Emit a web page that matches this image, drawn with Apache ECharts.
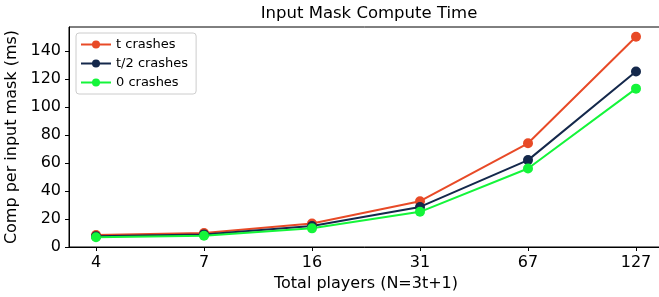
<!DOCTYPE html>
<html>
<head>
<meta charset="utf-8">
<script src="https://cdn.jsdelivr.net/npm/echarts@6/dist/echarts.min.js"></script>
<style>
  html, body { margin: 0; padding: 0; background: #fff; }
  #chart { width: 659px; height: 297px; }
</style>
</head>
<body>
<div id="chart"></div>
<script>
const players = ['4', '7', '16', '31', '67', '127'];
const tCrashes = [8.5, 10, 16.8, 32.7, 74, 150];
const halfCrashes = [7.6, 9, 15, 28.6, 62, 125.3];
const zeroCrashes = [6.9, 8, 13.3, 25.1, 56, 113];
const yTicks = [0, 20, 40, 60, 80, 100, 120, 140];

const font = 'DejaVu Sans';
const chart = echarts.init(document.getElementById('chart'));

const mkSeries = (name, values, color) => ({
    type: 'line',
    name: name,
    data: values.map((v, i) => [i, v]),
    symbol: 'circle',
    symbolSize: 10,
    lineStyle: { width: 2, color: color },
    itemStyle: { color: color },
    animation: false,
});

const option = {
    title: {
        text: 'Input Mask Compute Time',
        left: 369, top: 5, padding: 0, textAlign: 'center',
        textStyle: { fontFamily: font, fontSize: 16.5, fontWeight: 'normal', color: '#000' },
    },
    // right edge of the axes box runs just past the picture, as in the source
    grid: {
        left: 69, right: -4, top: 27, bottom: 50,
        outerBoundsMode: 'none',
        show: true, borderColor: '#000', borderWidth: 1,
    },
    legend: {
        orient: 'vertical', left: 76, top: 33,
        backgroundColor: '#fff', borderColor: '#ccc', borderWidth: 1, borderRadius: 3,
        padding: [5, 8, 5, 4],
        itemWidth: 30, itemHeight: 10, itemGap: 6,
        textStyle: { fontFamily: font, fontSize: 13, color: '#000' },
    },
    xAxis: {
        type: 'value', min: -0.25, max: 5.25,
        name: 'Total players (N=3t+1)', nameLocation: 'middle', nameGap: 28,
        nameTextStyle: { fontFamily: font, fontSize: 16, color: '#000' },
        axisLine: { onZero: false, lineStyle: { color: '#000' } },
        axisTick: { length: 4, lineStyle: { color: '#000' }, customValues: [0, 1, 2, 3, 4, 5] },
        axisLabel: {
            customValues: [0, 1, 2, 3, 4, 5],
            formatter: v => players[Math.round(v)],
            fontFamily: font, fontSize: 16, color: '#000', margin: 8,
        },
        splitLine: { show: false },
    },
    yAxis: {
        type: 'value', min: 0, max: 157,
        name: 'Comp per input mask (ms)', nameLocation: 'middle', nameGap: 41,
        nameTextStyle: { fontFamily: font, fontSize: 16, color: '#000' },
        axisLine: { show: true, onZero: false, lineStyle: { color: '#000' } },
        axisTick: { show: true, length: 4, lineStyle: { color: '#000' }, customValues: yTicks },
        axisLabel: { customValues: yTicks, fontFamily: font, fontSize: 16, color: '#000', margin: 8 },
        splitLine: { show: false },
    },
    series: [
        mkSeries('t crashes', tCrashes, '#e84a27'),
        mkSeries('t/2 crashes', halfCrashes, '#14284b'),
        mkSeries('0 crashes', zeroCrashes, '#14f53a'),
    ],
};

chart.setOption(option);
</script>
</body>
</html>
